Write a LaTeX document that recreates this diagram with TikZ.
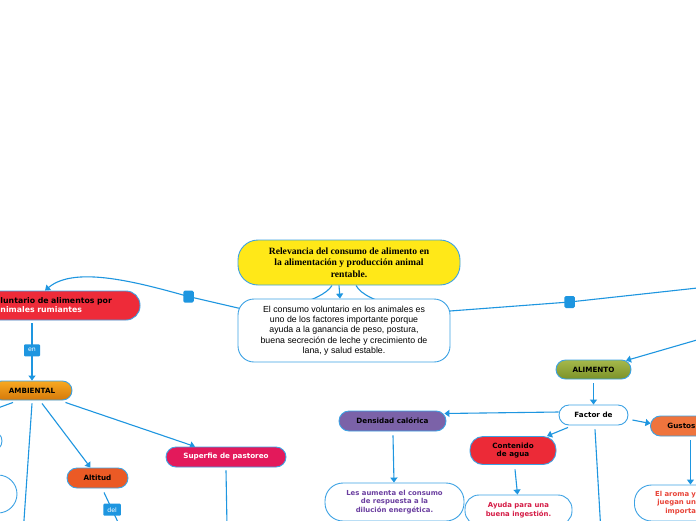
\documentclass[tikz,border=0pt]{standalone}
\usepackage{fontspec}
\setmainfont{Liberation Serif}
\newfontfamily\verd{DejaVu Sans}
\newfontfamily\arialf{Liberation Sans}
\usetikzlibrary{arrows.meta,backgrounds,calc}
\definecolor{linkblue}{HTML}{1E96E0}
\definecolor{bordblue}{HTML}{3CA2E4}
\definecolor{mainyellow}{HTML}{FFE818}
\definecolor{rred}{HTML}{EE2B39}
\definecolor{ambtop}{HTML}{F8A922}
\definecolor{ambbot}{HTML}{D5790A}
\definecolor{altor}{HTML}{EB5A25}
\definecolor{suppink}{HTML}{E3195B}
\definecolor{alitop}{HTML}{A5B84B}
\definecolor{alibot}{HTML}{7C9228}
\definecolor{denpur}{HTML}{7B62A8}
\definecolor{contred}{HTML}{EC2A37}
\definecolor{gusor}{HTML}{EF743D}
\definecolor{txpur}{HTML}{6B3FA0}
\definecolor{txcrim}{HTML}{D51C46}
\definecolor{txred}{HTML}{E84438}
\begin{document}
\begin{tikzpicture}[x=1pt,y=-1pt,
 conn/.style={draw=linkblue, line width=1.1pt},
 arr/.style={conn, -{Triangle[length=5pt,width=7pt]}},
 nbox/.style={draw=bordblue, line width=0.9pt, inner sep=0pt, align=center},
 lab/.style={font=\verd\bfseries\fontsize{7.2}{8.6}\selectfont},
 smalltx/.style={font=\verd\bfseries\fontsize{6.9}{8.4}\selectfont},
 sqbox/.style={fill=linkblue, minimum width=10.5pt, minimum height=12pt, rounded corners=1.5pt, inner sep=0pt},
 tagbox/.style={fill=linkblue, text=white, font=\verd\fontsize{6.2}{7}\selectfont, rounded corners=1pt, inner sep=0pt, minimum height=12pt, minimum width=16pt}]
\useasboundingbox (0,0) rectangle (696,520);
\clip (0,0) rectangle (696,520);

% central nodes
\node[nbox, fill=mainyellow, minimum width=222pt, minimum height=45pt, rounded corners=20pt,
  font=\bfseries\fontsize{9.6}{11.6}\selectfont] (main) at (349,262.5)
  {Relevancia del consumo de alimento en\\la alimentación y producción animal\\rentable.};
\node[nbox, fill=white, minimum width=212pt, minimum height=63pt, rounded corners=16pt,
  font=\arialf\fontsize{8.8}{10.3}\selectfont] (white) at (344,330.5)
  {El consumo voluntario en los animales es\\uno de los factores importante porque\\ayuda a la ganancia de peso, postura,\\buena secreción de leche y crecimiento de\\lana, y salud estable.};

% left branch
\node[nbox, fill=rred, minimum width=200pt, minimum height=29pt, rounded corners=14pt,
  text width=190pt, align=left, font=\verd\bfseries\fontsize{7.8}{9}\selectfont] (rum) at (40,305.5)
  {\hspace*{55.5pt}luntario de alimentos por\\\hspace*{55.5pt}\textcolor{white}{nimales rumiantes}};
\node[nbox, top color=ambtop, bottom color=ambbot, minimum width=80pt, minimum height=19pt,
  rounded corners=9.5pt, lab] (amb) at (32,390.5) {AMBIENTAL};
\node[nbox, fill=white, minimum width=62pt, minimum height=20pt, rounded corners=10pt] (pa) at (-29,441) {};
\node[nbox, fill=white, minimum width=117pt, minimum height=38pt, rounded corners=19pt] (pb) at (-41.5,494) {};
\node[nbox, fill=altor, minimum width=61pt, minimum height=20pt, rounded corners=10pt, lab] (alt) at (97.5,478) {Altitud};
\node[nbox, fill=suppink, minimum width=120pt, minimum height=20pt, rounded corners=10pt, lab, text=white] (sup) at (226,457) {Superfie de pastoreo};

% right branch
\node[nbox, top color=alitop, bottom color=alibot, minimum width=75pt, minimum height=19pt,
  rounded corners=9.5pt, lab] (ali) at (593.5,369.5) {ALIMENTO};
\node[nbox, fill=white, minimum width=69pt, minimum height=20pt, rounded corners=10pt, lab] (fac) at (593.5,415) {Factor de};
\node[nbox, fill=denpur, minimum width=107pt, minimum height=20pt, rounded corners=10pt, lab] (den) at (392.5,421) {Densidad calórica};
\node[nbox, fill=contred, minimum width=86pt, minimum height=28pt, rounded corners=13pt, lab] (cont) at (513,450.5) {Contenido\\de agua};
\node[nbox, fill=gusor, minimum width=100pt, minimum height=20pt, rounded corners=10pt, lab,
  anchor=west, text width=94pt, align=left] (gus) at (650,426) {\hspace*{14pt}Gustos};
\node[nbox, fill=white, minimum width=139pt, minimum height=38pt, rounded corners=18pt, smalltx, text=txpur] (les) at (394.5,502)
  {Les aumenta el consumo\\de respuesta a la\\dilución energética.};
\node[nbox, fill=white, minimum width=107pt, minimum height=30pt, rounded corners=14pt, smalltx, text=txcrim] (ayu) at (518.5,510)
  {Ayuda para una\\buena ingestión.};
\node[nbox, fill=white, minimum width=130pt, minimum height=36pt, rounded corners=17pt, smalltx, text=txred,
  anchor=west, text width=124pt, align=right] (gusw) at (634,503)
  {El aroma y\makebox[65.5pt]{}\\juegan un\makebox[65.5pt]{}\\importa\makebox[65.5pt]{}};

% squares on connectors
\node[sqbox] (sq1) at (188.5,296.5) {};
\node[sqbox] (sq2) at (569.5,302) {};

% off-picture ends
\coordinate (offR1) at (702,287.5);
\coordinate (offR2) at (702,338.5);
\coordinate (offL) at (-20,414.5);
\coordinate (offD1) at (23.6,526);
\coordinate (offD2) at (119.8,526);
\coordinate (offD3) at (227,526);
\coordinate (offD4) at (600.6,526);

\begin{scope}[on background layer]
\clip (0,0) rectangle (696,520);
\fill[white] (0,0) rectangle (696,520);
\draw[arr] ([xshift=-10pt]main.south) -- ([xshift=-4pt]white.north);
\draw[arr] ([xshift=-17pt]main.south) .. controls (322,302) and (270,314) .. (238,308)
   -- (sq1.center) .. controls (140,283) and (75,265) .. ([xshift=5pt]rum.north);
\draw[conn] ([xshift=7pt]main.south) .. controls (366,304) and (420,313) .. (450,311)
   -- (sq2.center) -- (offR1);
\draw[arr] ($(rum.south)+(-8,3)$) -- node[tagbox, pos=0.47] (en) {en} (amb.north);
\draw[conn] ($(amb.south)+(-19,2)$) -- (offL);
\draw[conn] ($(amb.south)+(0,3)$) -- (offD1);
\draw[arr] ($(amb.south)+(10,3)$) -- ([xshift=-7pt]alt.north);
\draw[arr] ($(amb.south east)+(-7,2)$) -- ([xshift=-31pt]sup.north);
\draw[conn] ($(alt.south)+(6.5,4)$) -- node[tagbox, pos=0.515, minimum width=17.5pt] (del) {del} (offD2);
\draw[conn] ($(sup.south)+(0,3)$) -- (offD3);
\draw[arr] (offR2) -- ($(ali.north)+(32.5,1)$);
\draw[arr] ($(ali.south)+(0,4)$) -- (fac.north);
\draw[arr] ($(fac.west)+(0,-3)$) -- ($(den.east)+(-2,-7.5)$);
\draw[arr] ($(fac.south)+(-25.5,2)$) -- ($(cont.north)+(34,0)$);
\draw[conn] ($(fac.south)+(1.5,4)$) -- (offD4);
\draw[arr] ($(fac.east)+(4,5)$) -- ($(gus.west)+(0.5,-2.5)$);
\draw[arr] ($(gus.south)+(-10,4)$) -- ($(gusw.north)+(-9,0)$);
\draw[arr] ($(den.south)+(0.5,4)$) -- ($(les.north)+(-0.5,0)$);
\draw[arr] ($(cont.south)+(2,4.5)$) -- ($(ayu.north)+(-1,0)$);
\end{scope}
\end{tikzpicture}
\end{document}
